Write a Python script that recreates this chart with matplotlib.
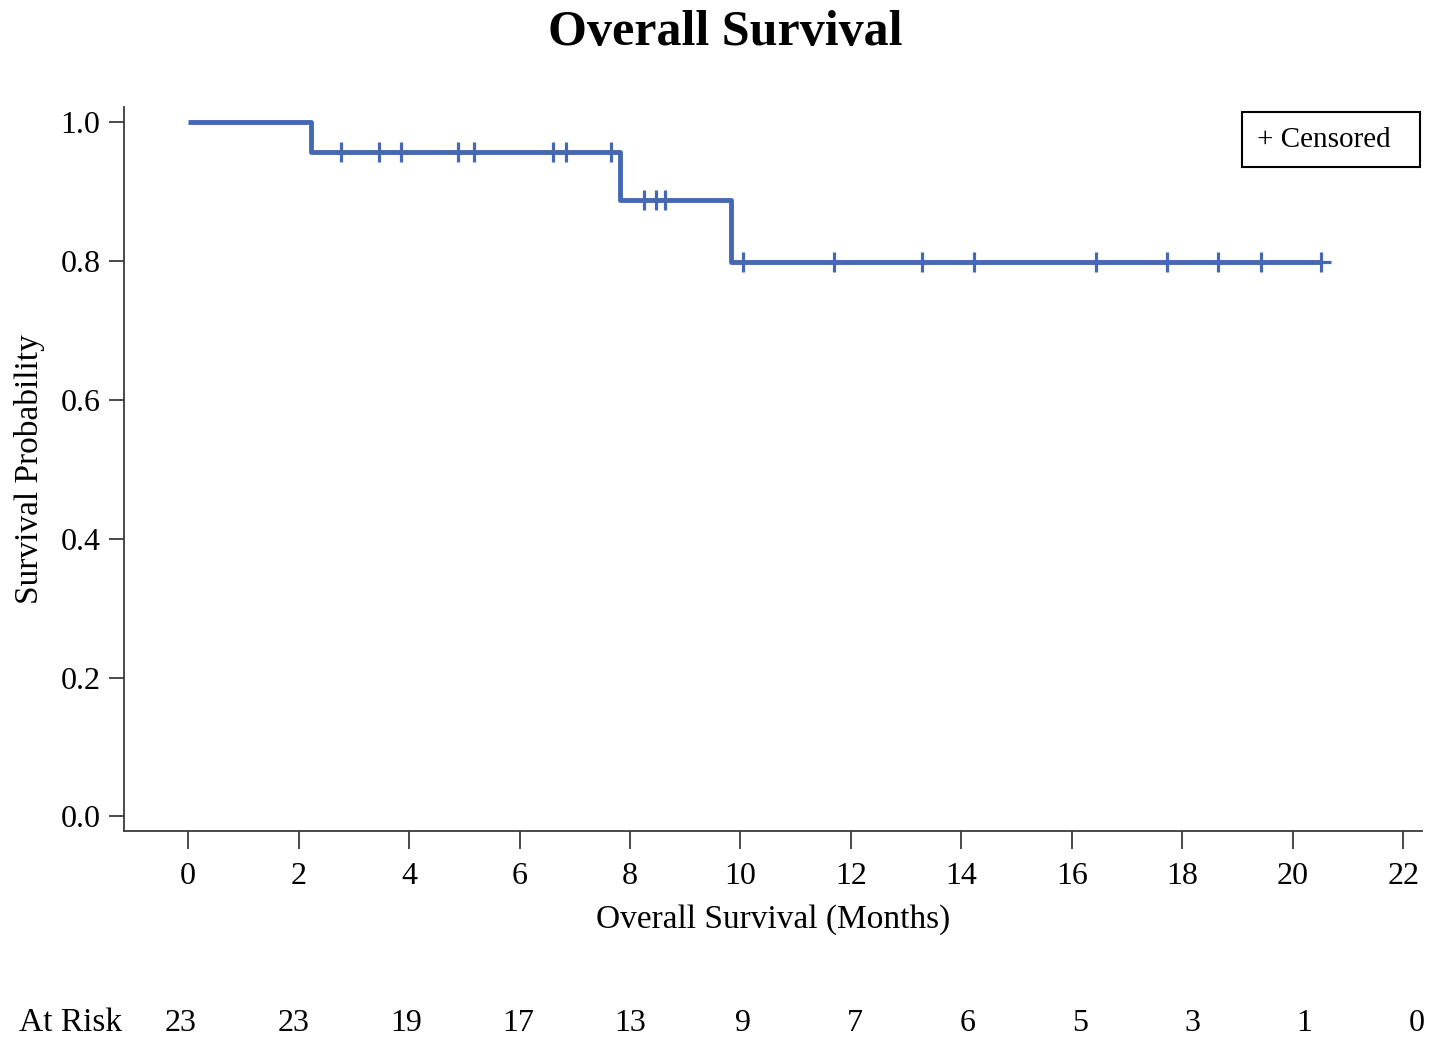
import numpy as np
import matplotlib
matplotlib.use("Agg")
import matplotlib.pyplot as plt

plt.rcParams['font.family'] = ['Liberation Serif', 'DejaVu Serif']

# follow-up times (months) and event flags (1 = death, 0 = censored)
durations = [2.22, 2.76, 3.45, 3.86, 4.89, 5.17, 6.61, 6.84, 7.66, 7.82, 8.26, 8.47,
             8.64, 9.83, 10.04, 11.70, 13.28, 14.22, 16.43, 17.72, 18.65, 19.42, 20.51]
events = [1, 0, 0, 0, 0, 0, 0, 0, 0, 1, 0, 0, 0, 1, 0, 0, 0, 0, 0, 0, 0, 0, 0]

risk_times = [0, 2, 4, 6, 8, 10, 12, 14, 16, 18, 20, 22]
at_risk = [23, 23, 19, 17, 13, 9, 7, 6, 5, 3, 1, 0]

y_ticks = [0.0, 0.2, 0.4, 0.6, 0.8, 1.0]

line_color = '#4468B4'
spine_color = '#3a3a3a'

# Kaplan-Meier estimate
t = np.array(durations)
e = np.array(events)
order = np.argsort(t)
t, e = t[order], e[order]
n = len(t)
surv = 1.0
step_x = [0.0]
step_y = [1.0]
cens_x, cens_y = [], []
for i in range(n):
    n_risk = n - i
    if e[i] == 1:
        surv = surv * (n_risk - 1) / n_risk
        step_x.append(t[i])
        step_y.append(surv)
    else:
        cens_x.append(t[i])
        cens_y.append(surv)
step_x.append(t.max())
step_y.append(surv)

fig = plt.figure(figsize=(14.37, 10.44), dpi=100)
ax = fig.add_axes([0.0863, 0.204, 0.9033, 0.6935])

ax.step(step_x, step_y, where='post', color=line_color, lw=3.5, solid_capstyle='butt')
ax.plot(cens_x, cens_y, ls='none', marker='+', ms=14, mew=2.3, color=line_color)

ax.set_xlim(-1.16, 22.34)
ax.set_ylim(-0.021, 1.022)
ax.set_xticks(risk_times)
ax.set_yticks(y_ticks)
ax.set_yticklabels([f'{v:.1f}' for v in y_ticks])

for s in ['top', 'right']:
    ax.spines[s].set_visible(False)
for s in ['left', 'bottom']:
    ax.spines[s].set_color(spine_color)
    ax.spines[s].set_linewidth(1.3)
ax.tick_params(axis='x', length=13, width=1.3, color=spine_color, labelsize=23, pad=9)
ax.tick_params(axis='y', length=11, width=1.3, color=spine_color, labelsize=23, pad=6)

ax.set_xlabel('Overall Survival (Months)', fontsize=24, labelpad=10)
ax.set_ylabel('Survival Probability', fontsize=24, labelpad=11)

fig.suptitle('Overall Survival', fontsize=36, fontweight='bold', x=0.505, y=0.99)

ax.text(0.987, 0.955, '+ Censored  ', transform=ax.transAxes, ha='right', va='center',
        fontsize=21, bbox=dict(boxstyle='square,pad=0.5', fc='white', ec='black', lw=1.5))

# at risk table
fig.text(0.085, 0.012, 'At Risk', fontsize=24, ha='right', va='baseline')
xs = np.linspace(181 / 1437, 1417 / 1437, len(at_risk))
for xf, v in zip(xs, at_risk):
    fig.text(xf, 0.012, str(v), fontsize=23, ha='center', va='baseline')

fig.savefig('out.png', dpi=100)
